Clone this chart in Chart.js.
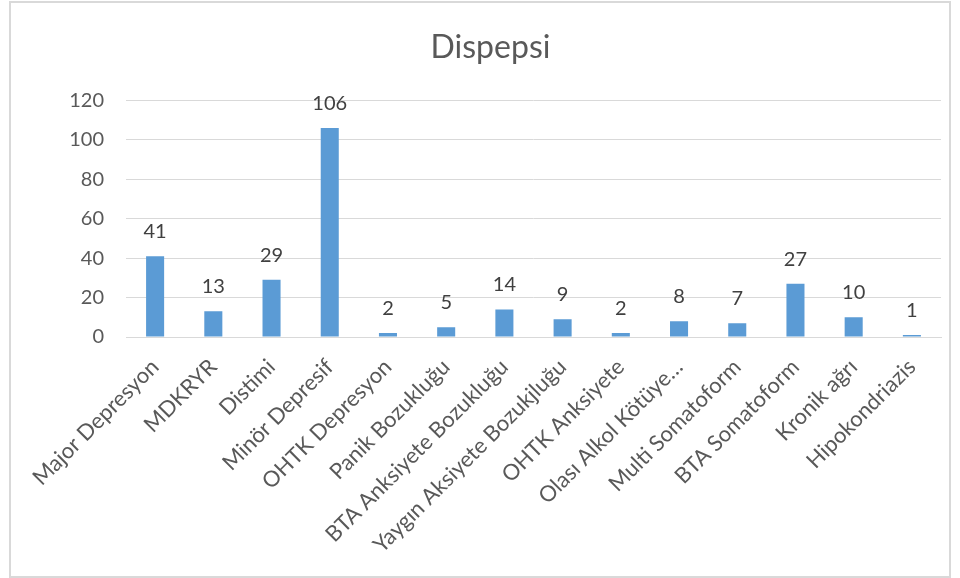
<!DOCTYPE html>
<html>
<head>
<meta charset="utf-8">
<script src="https://cdn.jsdelivr.net/npm/chart.js@4/dist/chart.umd.min.js"></script>
<style>
  body { margin: 0; background: #fff; }
  #wrap { position: relative; width: 960px; height: 578px; }
  #frame { position: absolute; left: 9px; top: 1px; width: 942px; height: 577px;
           border: 2px solid #d9d9d9; box-sizing: border-box; pointer-events: none; }
  canvas { position: absolute; left: 0; top: 0; }
</style>
</head>
<body>
<div id="wrap">
  <canvas id="myChart" width="960" height="578"></canvas>
  <div id="frame"></div>
</div>
<script>
// categories and counts
var categories = ["Major Depresyon", "MDKRYR", "Distimi", "Minör Depresif", "OHTK Depresyon",
  "Panik Bozukluğu", "BTA Anksiyete Bozukluğu", "Yaygın Aksiyete Bozukjluğu", "OHTK Anksiyete",
  "Olası Alkol Kötüye…", "Multi Somatoform", "BTA Somatoform", "Kronik ağrı", "Hipokondriazis"];
var counts = [41, 13, 29, 106, 2, 5, 14, 9, 2, 8, 7, 27, 10, 1];
var yTicks = [0, 20, 40, 60, 80, 100, 120];

var fontFamily = "Lato, 'Open Sans', sans-serif";

// writes each bar's value above it
var valueLabels = {
  id: 'valueLabels',
  afterDatasetsDraw: function(chart) {
    var ctx = chart.ctx;
    var meta = chart.getDatasetMeta(0);
    ctx.save();
    ctx.font = "20px " + fontFamily;
    ctx.fillStyle = "#404040";
    ctx.textAlign = "center";
    ctx.textBaseline = "alphabetic";
    meta.data.forEach(function(bar, i) {
      ctx.fillText(String(chart.data.datasets[0].data[i]), bar.x, bar.y - 18);
    });
    ctx.restore();
  }
};

var ctx = document.getElementById("myChart");
var myChart = new Chart(ctx, {
  type: 'bar',
  data: {
    labels: categories,
    datasets: [{
      data: counts,
      backgroundColor: "#5b9bd5",
      borderWidth: 0,
      categoryPercentage: 1,
      barPercentage: 0.31
    }]
  },
  options: {
    responsive: false,
    animation: false,
    layout: { padding: { left: 40, right: 19, top: 0, bottom: 0 } },
    plugins: {
      legend: { display: false },
      tooltip: { enabled: false },
      title: {
        display: true,
        text: "Dispepsi",
        color: "#595959",
        font: { family: fontFamily, size: 32, weight: 'normal' },
        padding: { top: 28, bottom: 34 }
      }
    },
    scales: {
      x: {
        grid: { display: false, drawTicks: false },
        border: { display: true, color: "#d9d9d9", width: 1 },
        ticks: {
          autoSkip: false,
          minRotation: 45,
          maxRotation: 45,
          padding: 17,
          color: "#595959",
          font: { family: fontFamily, size: 22 }
        },
        afterFit: function(scale) { scale.height = 241; }
      },
      y: {
        min: 0,
        max: 120,
        afterBuildTicks: function(scale) {
          scale.ticks = yTicks.map(function(v) { return { value: v }; });
        },
        grid: { color: "#d9d9d9", drawTicks: false, lineWidth: 1 },
        border: { display: false },
        ticks: {
          padding: 22,
          color: "#595959",
          font: { family: fontFamily, size: 20 }
        },
        afterFit: function(scale) { scale.width = 86; }
      }
    }
  },
  plugins: [valueLabels]
});
</script>
</body>
</html>
